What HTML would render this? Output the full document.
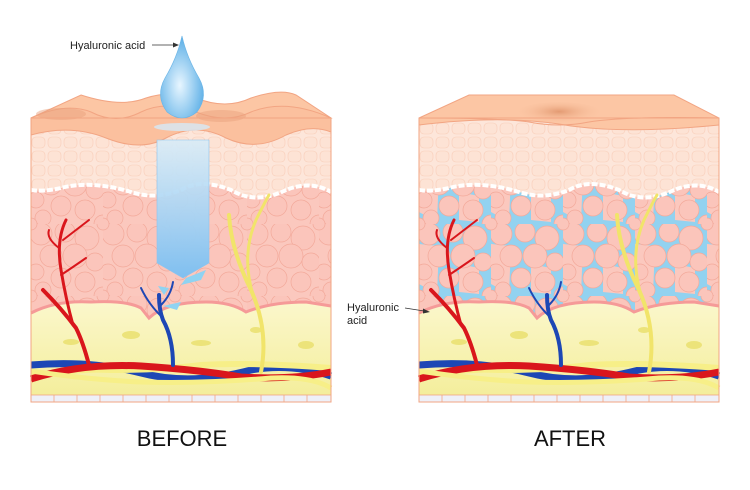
<!DOCTYPE html>
<html><head><style>
body{margin:0;background:#fff;width:750px;height:485px;overflow:hidden;font-family:"Liberation Sans",sans-serif}
</style></head><body>
<svg width="750" height="485" viewBox="0 0 750 485" xmlns="http://www.w3.org/2000/svg">
<defs>
<g id="cellset">
<circle cx="10" cy="10" r="11"/><circle cx="34" cy="8" r="10"/><circle cx="56" cy="14" r="12"/>
<circle cx="20" cy="32" r="11"/><circle cx="44" cy="32" r="12"/><circle cx="5" cy="48" r="8"/>
<circle cx="64" cy="38" r="9"/><circle cx="30" cy="54" r="10"/><circle cx="54" cy="58" r="10"/>
<circle cx="12" cy="66" r="8"/><circle cx="72" cy="72" r="9"/><circle cx="0" cy="0" r="6"/><circle cx="72" cy="0" r="6"/><circle cx="0" cy="72" r="6"/>
</g>
<pattern id="cellsA" width="72" height="72" patternUnits="userSpaceOnUse">
<rect width="72" height="72" fill="#fbc8be"/>
<use href="#cellset" fill="#fbc5bb" stroke="#f3a99a" stroke-width="0.7"/>
</pattern>
<pattern id="cellsB" width="72" height="72" patternUnits="userSpaceOnUse">
<rect width="72" height="72" fill="#92d2f0"/>
<path d="M0,20 L20,22 L18,70 L0,60 Z M40,40 L60,44 L60,70 L40,68 Z" fill="#fbc8be"/>
<use href="#cellset" fill="#fbc5bb" stroke="#f3a99a" stroke-width="0.7"/>
</pattern>
<pattern id="cellsE" width="16" height="14" patternUnits="userSpaceOnUse">
<rect width="16" height="14" fill="#fde6da"/>
<rect x="1" y="1" width="13" height="11" rx="4" fill="#fde3d5" stroke="#f8cdb8" stroke-width="0.6"/>
</pattern>
<linearGradient id="fat" x1="0" y1="0" x2="0" y2="1"><stop offset="0" stop-color="#fbf7cc"/><stop offset="1" stop-color="#f4ee9c"/></linearGradient>
<linearGradient id="col" x1="0" y1="0" x2="0" y2="1"><stop offset="0" stop-color="#d8ecf8" stop-opacity=".9"/><stop offset="1" stop-color="#7fbff0"/></linearGradient>
<radialGradient id="drop" cx="0.45" cy="0.6" r="0.6"><stop offset="0" stop-color="#e8f6ff"/><stop offset="1" stop-color="#5aaee6"/></radialGradient>
<radialGradient id="dip" cx="0.5" cy="0.4" r="0.5"><stop offset="0" stop-color="#e39a72"/><stop offset="1" stop-color="#fcc6a4" stop-opacity="0"/></radialGradient>
<g id="lower">
<path d="M0,233 Q25,220 60,222 Q95,220 110,228 L118,238 Q135,222 175,222 Q200,222 215,232 Q240,222 275,222 L300,226 L300,315 L0,315 Z" fill="url(#fat)"/>
<path d="M0,233 Q25,220 60,222 Q95,220 110,228 L118,238 Q135,222 175,222 Q200,222 215,232 Q240,222 275,222 L300,226" fill="none" stroke="#f59a98" stroke-width="3"/>
<g fill="#ece37a"><ellipse cx="40" cy="262" rx="8" ry="3"/><ellipse cx="100" cy="255" rx="9" ry="4"/><ellipse cx="170" cy="263" rx="10" ry="3"/><ellipse cx="275" cy="265" rx="8" ry="4"/><ellipse cx="225" cy="250" rx="6" ry="3"/></g>
<path d="M0,285 Q60,280 110,293 Q160,306 220,290 Q260,283 300,296" stroke="#1d47b5" stroke-width="7" fill="none"/>
<path d="M0,297 Q40,288 80,290 Q130,290 170,285 Q220,282 300,288" stroke="#f7ef88" stroke-width="6" fill="none"/>
<path d="M0,299 Q50,283 110,286 Q170,290 210,297 Q260,300 300,292" stroke="#d9161c" stroke-width="7" fill="none"/>
<path d="M0,291 Q60,300 110,302 Q170,304 240,298 Q280,296 300,308" stroke="#f7ef88" stroke-width="5" fill="none"/>
<g fill="none" stroke-linecap="round">
<path d="M58,285 Q52,262 45,248 Q30,228 12,210" stroke="#d9161c" stroke-width="4"/>
<path d="M42,245 Q35,220 30,190 Q25,160 35,140" stroke="#d9161c" stroke-width="3"/>
<path d="M30,195 Q45,185 55,178" stroke="#d9161c" stroke-width="2"/>
<path d="M28,168 Q15,158 18,150" stroke="#d9161c" stroke-width="2"/>
<path d="M32,160 Q45,150 58,140" stroke="#d9161c" stroke-width="2"/>
<path d="M142,285 Q142,258 132,240 Q128,230 128,215" stroke="#1d47b5" stroke-width="4"/>
<path d="M132,238 Q118,225 110,208" stroke="#1d47b5" stroke-width="2"/>
<path d="M130,225 Q140,215 142,202" stroke="#1d47b5" stroke-width="2"/>
<path d="M230,292 Q238,250 220,210 Q200,170 198,135" stroke="#f1e46a" stroke-width="4"/>
<path d="M222,215 Q210,175 225,140 Q235,120 238,115" stroke="#f1e46a" stroke-width="3"/>
</g>
<rect x="0" y="315" width="300" height="7" fill="#eef0f8" stroke="#f2a583" stroke-width="0.8"/>
<g stroke="#f2a583" stroke-width="0.8"><line x1="23" y1="315" x2="23" y2="322"/><line x1="46" y1="315" x2="46" y2="322"/><line x1="69" y1="315" x2="69" y2="322"/><line x1="92" y1="315" x2="92" y2="322"/><line x1="115" y1="315" x2="115" y2="322"/><line x1="138" y1="315" x2="138" y2="322"/><line x1="161" y1="315" x2="161" y2="322"/><line x1="184" y1="315" x2="184" y2="322"/><line x1="207" y1="315" x2="207" y2="322"/><line x1="230" y1="315" x2="230" y2="322"/><line x1="253" y1="315" x2="253" y2="322"/><line x1="276" y1="315" x2="276" y2="322"/></g>
</g>
</defs>

<g transform="translate(31,80)">
<rect x="0" y="38" width="300" height="200" fill="url(#cellsA)"/>
<path d="M0,55 Q40,44 75,58 Q110,72 135,58 Q165,42 195,58 Q225,72 255,55 Q280,44 300,52 L300,112 Q280,100 255,110 Q225,125 200,110 Q170,98 150,110 Q125,120 100,112 Q60,100 30,108 Q12,112 0,110 Z" fill="url(#cellsE)"/>
<path d="M0,110 Q12,112 30,108 Q60,100 100,112 Q125,120 150,110 Q170,98 200,110 Q225,125 255,110 Q280,100 300,112" stroke="#fff" stroke-width="4" stroke-dasharray="6,2" fill="none"/>
<path d="M0,38 L50,15 Q90,28 115,18 Q140,10 165,18 Q195,30 220,18 Q250,8 265,15 L300,38 Z" fill="#fcc6a4" stroke="#f2a583"/>
<path d="M0,38 Q35,22 60,32 Q85,45 110,32 Q135,20 165,32 Q195,44 220,32 Q255,18 300,38 L300,52 Q280,44 255,55 Q225,72 195,58 Q165,42 135,58 Q110,72 75,58 Q40,44 0,55 Z" fill="#fbc09e" stroke="#f2a583"/>
<ellipse cx="30" cy="34" rx="25" ry="6" fill="#e9a27d" opacity=".5"/><ellipse cx="190" cy="36" rx="25" ry="6" fill="#e9a27d" opacity=".5"/>
<use href="#lower"/>
<path d="M126,60 L178,60 L178,183 L152,198 L126,183 Z" fill="url(#col)" stroke="#8cc4ee" stroke-width="0.6"/>
<path d="M155,198 L175,190 L170,200 L150,205 Z M127,206 L138,208 L133,215 Z M132,226 L150,222 L146,230 Z" fill="#8fd3f2"/>
<rect x="0" y="38" width="300" height="284" fill="none" stroke="#f2a583"/>
</g>
<ellipse cx="182" cy="127" rx="28" ry="4" fill="#d6e8f6" opacity=".8"/>
<path d="M182,36 Q177,58 165,78 Q155,96 167,112 Q182,124 197,112 Q209,96 199,78 Q187,58 182,36 Z" fill="url(#drop)" stroke="#6ab4e6" stroke-width=".6"/>
<text x="70" y="49" font-size="11" fill="#222">Hyaluronic acid</text>
<line x1="152" y1="45" x2="174" y2="45" stroke="#333" stroke-width=".8"/><path d="M179,45 L173,42.5 L173,47.5 Z" fill="#333"/>

<g transform="translate(419,80)">
<rect x="0" y="38" width="300" height="200" fill="url(#cellsB)"/>
<path d="M0,45 Q80,35 140,44 Q200,55 300,45 L300,112 Q280,100 255,110 Q225,125 200,110 Q170,98 150,110 Q125,120 100,112 Q60,100 30,108 Q12,112 0,110 Z" fill="url(#cellsE)"/>
<path d="M0,110 Q12,112 30,108 Q60,100 100,112 Q125,120 150,110 Q170,98 200,110 Q225,125 255,110 Q280,100 300,112" stroke="#fff" stroke-width="4" stroke-dasharray="6,2" fill="none"/>
<path d="M0,38 L50,15 L255,15 L300,38 L300,45 Q200,55 140,44 Q80,35 0,45 Z" fill="#fcc6a4" stroke="#f2a583"/>
<path d="M0,38 Q80,38 110,42 Q140,48 170,42 Q210,36 300,38" fill="none" stroke="#f2a583"/>
<ellipse cx="140" cy="34" rx="45" ry="12" fill="url(#dip)"/>
<use href="#lower"/>
<rect x="0" y="38" width="300" height="284" fill="none" stroke="#f2a583"/>
</g>
<text x="347" y="311" font-size="11" fill="#222">Hyaluronic</text>
<text x="347" y="324" font-size="11" fill="#222">acid</text>
<line x1="405" y1="308" x2="424" y2="311" stroke="#333" stroke-width=".8"/><path d="M430,312 L423,308.5 L423,313.5 Z" fill="#333"/>

<text x="182" y="446" font-size="22" text-anchor="middle" fill="#111">BEFORE</text>
<text x="570" y="446" font-size="22" text-anchor="middle" fill="#111">AFTER</text>
</svg>
</body></html>
